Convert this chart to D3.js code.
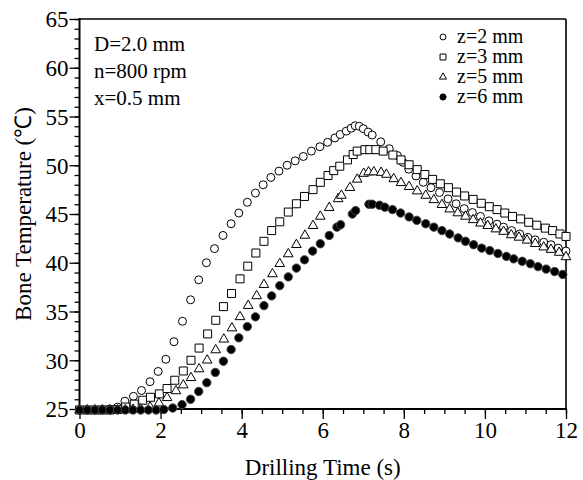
<!DOCTYPE html>
<html lang="en">
<head>
<meta charset="UTF-8">
<title>Bone Temperature vs Drilling Time</title>
<script src="https://d3js.org/d3.v7.min.js"></script>
<style>
  body { margin: 0; background: #fff; }
</style>
</head>
<body>
<svg id="chart" width="583" height="480"></svg>
<script>
// data (time in s, temperature in C)
const timeZ2 = [0,0.19,0.38,0.56,0.75,0.94,1.12,1.33,1.53,1.74,1.94,2.13,2.33,2.54,2.74,2.94,3.13,3.33,3.54,3.74,3.93,4.14,4.34,4.53,4.72,4.92,5.12,5.32,5.52,5.72,5.93,6.12,6.30,6.43,6.58,6.70,6.80,6.90,7.00,7.12,7.22,7.43,7.64,7.84,7.98,8.12,8.30,8.48,8.67,8.88,9.09,9.29,9.49,9.69,9.89,10.10,10.30,10.46,10.66,10.86,11.06,11.24,11.45,11.63,11.81,12.0];
const tempZ2 = [24.9,24.9,24.9,24.95,25.0,25.2,25.8,26.3,26.9,27.8,28.85,30.1,31.9,34.0,36.2,38.25,40.0,41.45,42.8,44.0,45.1,46.2,47.15,48.0,48.75,49.4,50.0,50.45,50.9,51.45,51.9,52.35,52.8,53.15,53.5,53.8,54.05,54.0,53.75,53.4,53.1,52.4,51.7,51.0,50.3,49.6,48.9,48.25,47.7,47.2,46.55,46.05,45.55,45.15,44.75,44.3,43.95,43.65,43.3,42.95,42.6,42.35,42.1,41.85,41.5,41.2];

const timeZ3 = [0,0.19,0.38,0.56,0.75,0.94,1.14,1.35,1.56,1.75,1.97,2.16,2.35,2.56,2.75,2.95,3.16,3.36,3.55,3.75,3.96,4.15,4.35,4.55,4.74,4.94,5.15,5.35,5.55,5.76,5.94,6.13,6.27,6.42,6.61,6.75,6.85,7.04,7.16,7.31,7.49,7.73,7.93,8.13,8.33,8.52,8.71,8.90,9.10,9.30,9.50,9.71,9.91,10.11,10.30,10.49,10.68,10.88,11.08,11.28,11.49,11.67,11.85,12.0];
const tempZ3 = [24.9,24.9,24.9,24.9,24.9,24.95,25.2,25.5,25.9,26.2,26.55,27.1,27.95,28.9,30.0,31.25,32.7,34.1,35.5,36.85,38.35,39.65,41.0,42.2,43.3,44.2,45.2,46.05,46.8,47.5,48.25,48.95,49.45,49.9,50.55,51.1,51.45,51.6,51.6,51.6,51.45,51.05,50.55,50.05,49.55,49.05,48.55,48.1,47.7,47.25,46.85,46.5,46.1,45.75,45.45,45.1,44.75,44.5,44.15,43.85,43.55,43.3,42.95,42.7];

const timeZ5 = [0,0.19,0.38,0.56,0.75,0.94,1.13,1.32,1.51,1.74,1.96,2.16,2.38,2.56,2.75,2.95,3.15,3.36,3.56,3.76,3.96,4.16,4.37,4.55,4.76,4.94,5.15,5.35,5.56,5.76,5.94,6.16,6.38,6.46,6.67,6.85,7.01,7.13,7.26,7.44,7.57,7.75,7.93,8.13,8.33,8.54,8.74,8.94,9.13,9.33,9.52,9.71,9.89,10.07,10.27,10.46,10.65,10.84,11.04,11.24,11.45,11.63,11.83,12.0];
const tempZ5 = [24.9,24.9,24.9,24.9,24.9,24.9,24.9,24.95,25.0,25.2,25.6,26.15,26.85,27.45,28.2,29.1,30.0,31.05,32.15,33.3,34.45,35.6,36.6,37.75,38.85,39.9,40.9,41.85,42.8,43.8,44.75,45.65,46.55,46.9,47.7,48.55,49.15,49.3,49.3,49.25,49.05,48.6,48.2,47.8,47.35,46.9,46.45,45.95,45.5,45.1,44.75,44.4,44.05,43.8,43.45,43.2,42.85,42.6,42.3,41.95,41.6,41.35,41.05,40.6];

const timeZ6 = [0,0.19,0.38,0.56,0.75,0.94,1.13,1.32,1.51,1.70,1.89,2.08,2.30,2.53,2.74,2.94,3.14,3.35,3.55,3.74,3.93,4.14,4.34,4.55,4.74,4.94,5.15,5.35,5.55,5.75,5.94,6.16,6.35,6.44,6.73,6.81,7.14,7.22,7.40,7.53,7.72,7.92,8.13,8.32,8.54,8.74,8.94,9.13,9.34,9.52,9.72,9.92,10.12,10.32,10.53,10.71,10.92,11.12,11.31,11.51,11.72,11.92];
const tempZ6 = [24.9,24.9,24.9,24.9,24.9,24.9,24.9,24.9,24.9,24.9,24.9,24.95,25.1,25.45,26.0,26.8,27.7,28.75,29.9,31.1,32.3,33.45,34.45,35.6,36.6,37.65,38.55,39.45,40.3,41.2,41.95,42.8,43.65,43.9,45.0,45.35,46.0,46.0,45.9,45.7,45.45,45.1,44.7,44.35,44.0,43.65,43.3,42.95,42.55,42.2,41.85,41.5,41.25,40.95,40.65,40.4,40.15,39.9,39.6,39.35,39.1,38.8];

const seriesNames = ["z=2 mm", "z=3 mm", "z=5 mm", "z=6 mm"];
const annotations = ["D=2.0 mm", "n=800 rpm", "x=0.5 mm"];
const xMajorTicks = [0, 2, 4, 6, 8, 10, 12];
const yMajorTicks = [25, 30, 35, 40, 45, 50, 55, 60, 65];

const serif = '"Liberation Serif", "Times New Roman", Times, serif';

const svg = d3.select("#chart");
const margin = { top: 19, right: 17, bottom: 71, left: 79.5 };
const width = 583, height = 480;

const x = d3.scaleLinear().domain([0, 12]).range([margin.left, width - margin.right]);
const y = d3.scaleLinear().domain([25, 65]).range([height - margin.bottom, margin.top]);

const series = [
    { name: seriesNames[0], t: timeZ2, v: tempZ2, shape: d3.symbolCircle, size: 50, fill: "#fff" },
    { name: seriesNames[1], t: timeZ3, v: tempZ3, shape: d3.symbolSquare, size: 64, fill: "#fff" },
    { name: seriesNames[2], t: timeZ5, v: tempZ5, shape: d3.symbolTriangle, size: 40, fill: "#fff" },
    { name: seriesNames[3], t: timeZ6, v: tempZ6, shape: d3.symbolCircle, size: 55, fill: "#000" }
];

// minor ticks
svg.append("g")
    .attr("transform", `translate(${margin.left},0)`)
    .call(d3.axisLeft(y).tickValues(d3.range(25, 66, 1)).tickSize(5).tickFormat(""))
    .call(g => g.select(".domain").remove());
svg.append("g")
    .attr("transform", `translate(0,${height - margin.bottom})`)
    .call(d3.axisBottom(x).tickValues(d3.range(0, 12.01, 0.5)).tickSize(5).tickFormat(""))
    .call(g => g.select(".domain").remove());

// major ticks + labels
const yAxis = svg.append("g")
    .attr("transform", `translate(${margin.left},0)`)
    .call(d3.axisLeft(y).tickValues(yMajorTicks).tickSize(10).tickPadding(1))
    .call(g => g.select(".domain").remove());
yAxis.attr("font-family", serif);
yAxis.selectAll("text").style("font-family", serif).style("font-size", "23px").attr("dy", "0.34em");

const xAxis = svg.append("g")
    .attr("transform", `translate(0,${height - margin.bottom})`)
    .call(d3.axisBottom(x).tickValues(xMajorTicks).tickSize(10).tickPadding(3))
    .call(g => g.select(".domain").remove());
xAxis.attr("font-family", serif);
xAxis.selectAll("text").style("font-family", serif).style("font-size", "23px");

svg.selectAll(".tick line").attr("stroke", "#000").attr("stroke-width", 1.3);

// frame
const x0 = x(0), x1 = x(12), y0 = y(25), y1 = y(65);
svg.append("line").attr("x1", x0).attr("x2", x0).attr("y1", y1 - 1).attr("y2", y0 + 1).attr("stroke", "#000").attr("stroke-width", 2);
svg.append("line").attr("x1", x0).attr("x2", x1 + 1).attr("y1", y0).attr("y2", y0).attr("stroke", "#000").attr("stroke-width", 2);
svg.append("line").attr("x1", x0).attr("x2", x1).attr("y1", y1).attr("y2", y1).attr("stroke", "#000").attr("stroke-width", 1.6);
svg.append("line").attr("x1", x1).attr("x2", x1).attr("y1", y1).attr("y2", y0).attr("stroke", "#000").attr("stroke-width", 1.6);

// axis titles
svg.append("text")
    .attr("x", (x0 + x1) / 2).attr("y", 475)
    .attr("text-anchor", "middle")
    .style("font-family", serif)
    .style("font-size", "23px")
    .text("Drilling Time (s)");

svg.append("text")
    .attr("transform", `translate(31,${(y0 + y1) / 2}) rotate(-90)`)
    .attr("text-anchor", "middle")
    .style("font-family", serif)
    .style("font-size", "23px")
    .text("Bone Temperature (\u2103)");

// points
series.forEach(s => {
    const sym = d3.symbol().type(s.shape).size(s.size);
    svg.append("g").selectAll("path")
        .data(s.t.map((t, i) => [t, s.v[i]]))
        .join("path")
        .attr("transform", d => `translate(${x(d[0])},${y(d[1])})`)
        .attr("d", sym)
        .attr("fill", s.fill)
        .attr("stroke", s.fill === "#000" ? "#444" : "#000")
        .attr("stroke-width", 1);
});

// annotation text, top left
svg.append("g").selectAll("text")
    .data(annotations)
    .join("text")
    .attr("x", 94)
    .attr("y", (d, i) => 51 + i * 27)
    .style("font-family", serif)
    .style("font-size", "21px")
    .text(d => d);

// legend
const legend = svg.append("g").attr("transform", "translate(443,37)");
series.forEach((s, i) => {
    const row = legend.append("g").attr("transform", `translate(0,${i * 20})`);
    row.append("path")
        .attr("d", d3.symbol().type(s.shape).size(s.size * 0.55))
        .attr("fill", s.fill)
        .attr("stroke", "#000")
        .attr("stroke-width", 1);
    row.append("text")
        .attr("x", 14)
        .attr("dy", "0.32em")
        .style("font-family", serif)
        .style("font-size", "20px")
        .text(s.name);
});
</script>
</body>
</html>
